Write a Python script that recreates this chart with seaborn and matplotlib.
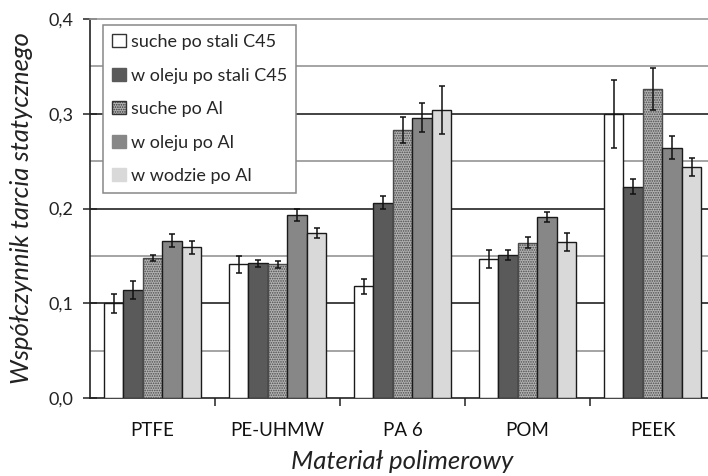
import matplotlib
matplotlib.use("Agg")
import matplotlib.pyplot as plt
import seaborn as sns
import pandas as pd
import numpy as np
from matplotlib.patches import Patch
from matplotlib.ticker import FixedLocator, FuncFormatter

categories = ["PTFE", "PE-UHMW", "PA 6", "POM", "PEEK"]
series = ["suche po stali C45", "w oleju po stali C45", "suche po Al",
          "w oleju po Al", "w wodzie po Al"]

suche_c45 = [0.100, 0.141, 0.118, 0.147, 0.300]
olej_c45 = [0.114, 0.142, 0.206, 0.151, 0.223]
suche_al = [0.148, 0.141, 0.283, 0.164, 0.326]
olej_al = [0.166, 0.193, 0.296, 0.191, 0.264]
woda_al = [0.159, 0.174, 0.304, 0.165, 0.244]

err_suche_c45 = [0.010, 0.009, 0.008, 0.0095, 0.036]
err_olej_c45 = [0.010, 0.004, 0.007, 0.005, 0.008]
err_suche_al = [0.003, 0.004, 0.014, 0.006, 0.022]
err_olej_al = [0.007, 0.006, 0.015, 0.0055, 0.012]
err_woda_al = [0.007, 0.005, 0.025, 0.0095, 0.0095]

values = [suche_c45, olej_c45, suche_al, olej_al, woda_al]
errors = [err_suche_c45, err_olej_c45, err_suche_al, err_olej_al, err_woda_al]

face = ["#ffffff", "#5a5a5a", "#b3b3b3", "#878787", "#d9d9d9"]
hatches = [None, None, ".......", None, None]

rows = []
for s, vals in zip(series, values):
    for c, v in zip(categories, vals):
        rows.append({"material": c, "warunki": s, "mu": v})
df = pd.DataFrame(rows)

sns.set_theme(style="white")
plt.rcParams["font.family"] = ["Lato", "DejaVu Sans"]
plt.rcParams["hatch.linewidth"] = 0.8

fig = plt.figure(figsize=(7.08, 4.76), dpi=100)
ax = fig.add_axes([90 / 708, 1 - 398 / 476, 625 / 708, 379 / 476])

sns.barplot(data=df, x="material", y="mu", hue="warunki", order=categories,
            hue_order=series, palette=face, width=0.78, gap=0,
            edgecolor="black", linewidth=1.0, errorbar=None, ax=ax,
            legend=False, zorder=3)

bar_groups = list(ax.containers)
for i, cont in enumerate(bar_groups):
    for j, p in enumerate(cont.patches):
        p.set_facecolor(face[i])
        p.set_edgecolor("#1a1a1a")
        if hatches[i]:
            p.set_hatch(hatches[i])
            p.set_edgecolor("#4a4a4a")
        cx = p.get_x() + p.get_width() / 2
        ax.errorbar(cx, values[i][j], yerr=errors[i][j], fmt="none",
                    ecolor="#111111", elinewidth=1.1, capsize=2.5,
                    capthick=1.1, zorder=5)

# horizontal grid: strong at 0.1 steps, light in between
for y in [0.1, 0.2, 0.3]:
    ax.axhline(y, color="#222222", lw=1.2, zorder=1)
for y in [0.05, 0.15, 0.25, 0.35]:
    ax.axhline(y, color="#8c8c8c", lw=1.1, zorder=1)

ax.set_ylim(0, 0.4)
ax.set_xlim(-0.5, 4.5)
ax.yaxis.set_major_locator(FixedLocator([0, 0.1, 0.2, 0.3, 0.4]))
ax.yaxis.set_major_formatter(FuncFormatter(lambda v, _: f"{v:.1f}".replace(".", ",")))
ax.tick_params(axis="y", which="major", direction="inout", length=10,
               width=1.1, color="#222222", labelsize=13, pad=7,
               labelcolor="#222222", left=True)
ax.xaxis.set_minor_locator(FixedLocator([0.5, 1.5, 2.5, 3.5]))
ax.tick_params(axis="x", which="minor", direction="out", length=6,
               width=1.1, color="#222222", bottom=True)
ax.tick_params(axis="x", which="major", length=0, labelsize=13.5,
               labelcolor="#111111", pad=17)

for side in ["left", "bottom"]:
    ax.spines[side].set_color("#222222")
    ax.spines[side].set_linewidth(1.2)
ax.spines["top"].set_color("#9a9a9a")
ax.spines["top"].set_linewidth(1.2)
ax.spines["right"].set_visible(False)

ax.set_xlabel("Materiał polimerowy", fontsize=18.5, style="italic",
              color="#222222", labelpad=8)
ax.set_ylabel("Współczynnik tarcia statycznego", fontsize=18.5, style="italic",
              color="#222222", labelpad=11)

handles = []
for i in range(5):
    h = Patch(facecolor=face[i], edgecolor="#333333" if i in (0, 2) else face[i],
              hatch=hatches[i], linewidth=1.0)
    handles.append(h)
leg = ax.legend(handles, series, loc="upper left",
                bbox_to_anchor=(13 / 625, 1 - 6 / 379), fontsize=13,
                handlelength=0.75, handleheight=0.75, handletextpad=0.3,
                labelspacing=0.97, borderpad=0.5, fancybox=False,
                framealpha=1, edgecolor="#888888", borderaxespad=0)
leg.get_frame().set_linewidth(1.1)
leg.set_zorder(10)

fig.savefig("out.png", dpi=100)
